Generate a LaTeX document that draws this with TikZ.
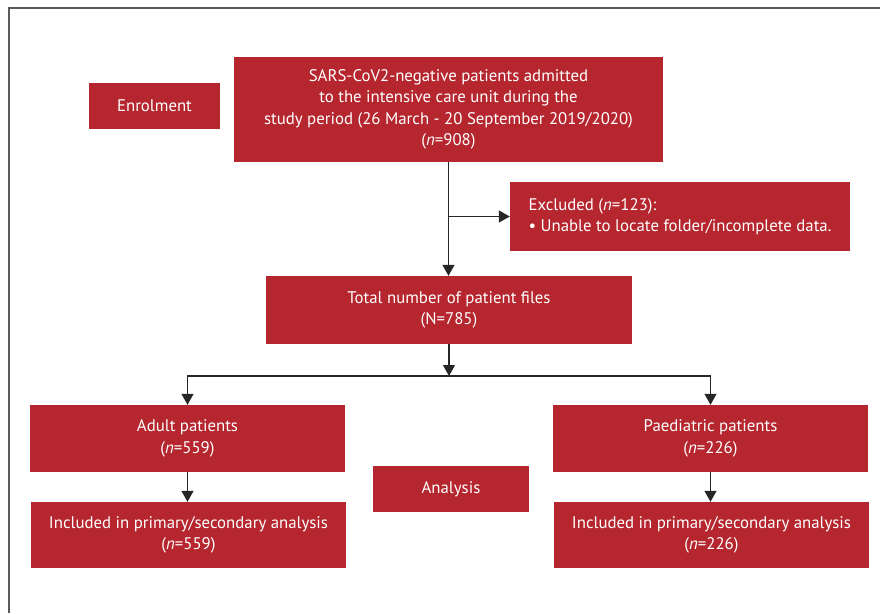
\documentclass[tikz,border=0pt]{standalone}
\usepackage{fontspec}
\setmainfont{PT Sans}
\usetikzlibrary{arrows.meta, positioning}
\definecolor{boxred}{HTML}{B5262E}
\definecolor{framegray}{HTML}{5A5A5A}
\tikzset{
  block/.style = {rectangle, fill=boxred, text=white, inner sep=0pt, align=center, font=\fontsize{16.8}{21.5}\selectfont},
  arrow/.style = {line width=1.2pt, draw=black!85, -{Triangle[length=11pt, width=12pt]}},
  line/.style = {line width=1.2pt, draw=black!85}
}

\begin{document}
\begin{tikzpicture}[x=1pt, y=-1pt]
  \useasboundingbox (0,0) rectangle (880,613);
  % Rahmen
  \draw[framegray, line width=1.2pt] (9,613) -- (9,8) -- (880,8);

  % Einschluss
  \node[block, minimum width=131, minimum height=46] (enrol) at (154.5,106) {Enrolment};
  \node[block, minimum width=429, minimum height=105] (admitted) at (448.5,109.5)
    {SARS-CoV2-negative patients admitted\\to the intensive care unit during the\\study period (26 March - 20 September 2019/2020)\\(\textit{n}=908)};
  \node[block, minimum width=340, minimum height=69, align=left] (excluded) at (680,216.5)
    {Excluded (\textit{n}=123):\\\textbullet\ Unable to locate folder/incomplete data.};
  \node[block, minimum width=366, minimum height=68] (total) at (449,310)
    {Total number of patient files\\(N=785)};

  % Analyse
  \node[block, minimum width=315, minimum height=67] (adult) at (187.5,438.5)
    {Adult patients\\(\textit{n}=559)};
  \node[block, minimum width=315, minimum height=67] (paed) at (710.5,438.5)
    {Paediatric patients\\(\textit{n}=226)};
  \node[block, minimum width=156, minimum height=46] (analysis) at (451,489) {Analysis};
  \node[block, minimum width=315, minimum height=66] (adultinc) at (188.5,535)
    {Included in primary/secondary analysis\\(\textit{n}=559)};
  \node[block, minimum width=315, minimum height=66] (paedinc) at (711.5,535)
    {Included in primary/secondary analysis\\(\textit{n}=226)};

  \coordinate (fork) at (total.south |- 0,376);

  % Verbindungen
  \draw[arrow] (admitted.south) -- (admitted.south |- total.north);
  \draw[arrow] (admitted.south |- excluded.west) -- (excluded.west);
  \draw[arrow] (total.south) -- (fork);
  \draw[arrow] (fork) -| (adult.north);
  \draw[arrow] (fork) -| (paed.north);
  \draw[arrow] (adult.south) -- (adult.south |- adultinc.north);
  \draw[arrow] (paed.south) -- (paed.south |- paedinc.north);
\end{tikzpicture}
\end{document}
